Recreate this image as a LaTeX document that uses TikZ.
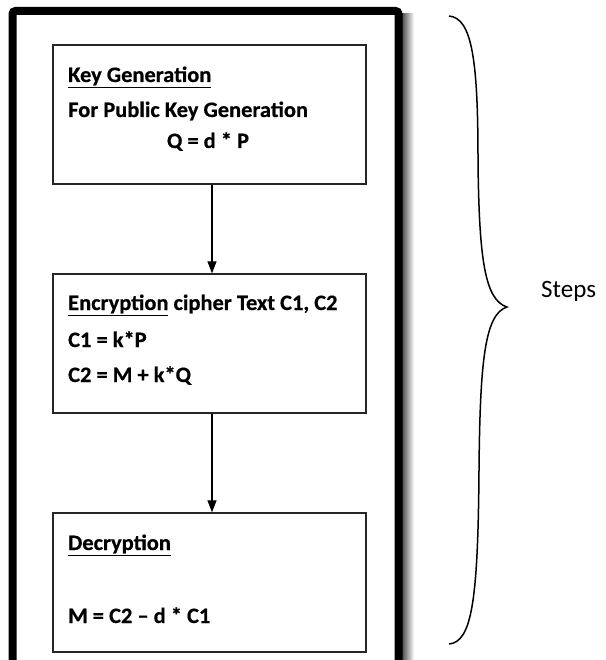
\documentclass[tikz,border=0pt]{standalone}
\usepackage{fontspec}
\setmainfont{Carlito}
\newfontfamily\boxfont[FakeStretch=1.02,FakeBold=0.6]{Carlito}
\usetikzlibrary{arrows.meta}
\begin{document}
\begin{tikzpicture}[x=1pt,y=-1pt,
  stepbox/.style={draw=black!85, line width=1.3pt, minimum width=313pt, minimum height=139pt, inner sep=0pt},
  txt/.style={anchor=base west, inner sep=0pt, font=\boxfont\bfseries\fontsize{22}{26}\selectfont},
  flow/.style={draw=black, line width=1.2pt, -{Triangle[length=12pt,width=9pt]}},
  frame/.style={draw=black, line width=8pt, rounded corners=3pt}]
\useasboundingbox (0,0) rectangle (605,660);
% shadow of outer frame
\fill[left color=black!70, right color=white] (402,14) rectangle (414,660);
\fill[white] (12,11) rectangle (398,660);
\draw[frame] (12.5,663) -- (12.5,11) -- (398.5,11) -- (398.5,663);
% boxes
\node[stepbox] (b1) at (209.5,114.5) {};
\node[stepbox] (b2) at (209.5,343.5) {};
\node[stepbox] (b3) at (209.5,582.5) {};
\draw[flow] ([xshift=2.5pt]b1.south) -- ([xshift=2.5pt]b2.north);
\draw[flow] ([xshift=2.5pt]b2.south) -- ([xshift=2.5pt]b3.north);
% texts
\node[txt] (t11) at (68,82) {\underline{Key Generation}};
\node[txt] (t12) at (68,117) {For Public Key Generation};
\node[txt, anchor=base] (t13) at (208,148) {Q = d * P};
\node[txt] (t21) at (68,310) {\underline{Encryption} cipher Text C1, C2};
\node[txt] (t22) at (68,347) {C1 = k*P};
\node[txt] (t23) at (68,382) {C2 = M + k*Q};
\node[txt] (t31) at (68,550) {\underline{Decryption}};
\node[txt] (t32) at (68,623) {M = C2 – d * C1};
% brace
\coordinate (btop) at (449,16);
\coordinate (btip) at (507,307);
\coordinate (bbot) at (449,644);
\draw[line width=1.5pt] (btop) .. controls (472,18) and (478,60) .. (478,160)
  .. controls (479,260) and (485,300) .. (btip)
  .. controls (485,314) and (480,360) .. (479,470)
  .. controls (478,600) and (472,642) .. (bbot);
\node[anchor=base west, inner sep=0pt, font=\fontsize{25}{30}\selectfont] (steps) at (541,297) {Steps};
\end{tikzpicture}
\end{document}
